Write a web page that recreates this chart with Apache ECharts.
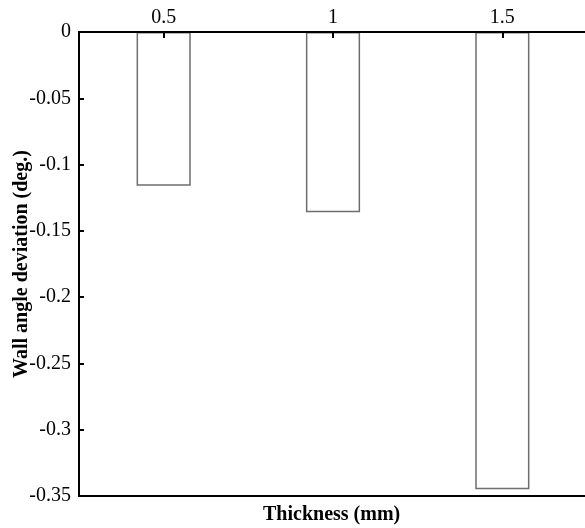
<!DOCTYPE html>
<html>
<head>
<meta charset="utf-8">
<script src="https://cdn.jsdelivr.net/npm/echarts@6/dist/echarts.min.js"></script>
<style>
  html, body { margin: 0; padding: 0; background: #fff; }
  #chart { width: 585px; height: 528px; }
</style>
</head>
<body>
<div id="chart"></div>
<script>
// Wall thickness categories (mm) and the resulting wall angle deviation (deg.)
const thickness = ['0.5', '1', '1.5'];
const deviation = [-0.116, -0.136, -0.345];

const FONT = '"Liberation Serif", "Times New Roman", serif';

const chart = echarts.init(document.getElementById('chart'));
chart.setOption({
  animation: false,
  backgroundColor: '#fff',
  grid: {
    left: 79, top: 32, right: -2, bottom: 32,
    outerBoundsMode: 'none',
    containLabel: false,
    show: true, borderColor: '#000', borderWidth: 2, backgroundColor: 'transparent'
  },
  xAxis: {
    type: 'category',
    position: 'top',
    z: 5,
    data: thickness,
    axisLine: { show: true, onZero: false, lineStyle: { color: '#000', width: 2 } },
    axisTick: { show: true, inside: true, alignWithLabel: true, length: 6, lineStyle: { color: '#000', width: 2 } },
    axisLabel: { color: '#000', fontFamily: FONT, fontSize: 20, margin: 4 },
    splitLine: { show: false }
  },
  yAxis: {
    type: 'value',
    z: 5,
    min: -0.35, max: 0, interval: 0.05,
    name: 'Wall angle deviation (deg.)',
    nameLocation: 'middle',
    nameGap: 47,
    nameMoveOverlap: false,
    nameTextStyle: { color: '#000', fontFamily: FONT, fontSize: 20, fontWeight: 'bold' },
    axisLine: { show: true, lineStyle: { color: '#000', width: 2 } },
    axisTick: { show: true, inside: true, length: 5, lineStyle: { color: '#000', width: 2 } },
    axisLabel: {
      color: '#000', fontFamily: FONT, fontSize: 20, margin: 8,
      formatter: v => String(+v.toFixed(2))
    },
    splitLine: { show: false }
  },
  graphic: [{
    type: 'text',
    left: 333 - 70, top: 505,
    style: {
      text: 'Thickness (mm)',
      font: 'bold 20px ' + FONT,
      fill: '#000'
    }
  }],
  series: [{
    type: 'bar',
    data: deviation,
    barWidth: '32%',
    z: 1,
    itemStyle: { color: '#fff', borderColor: '#6e6e6e', borderWidth: 1.5 }
  }]
});
</script>
</body>
</html>
